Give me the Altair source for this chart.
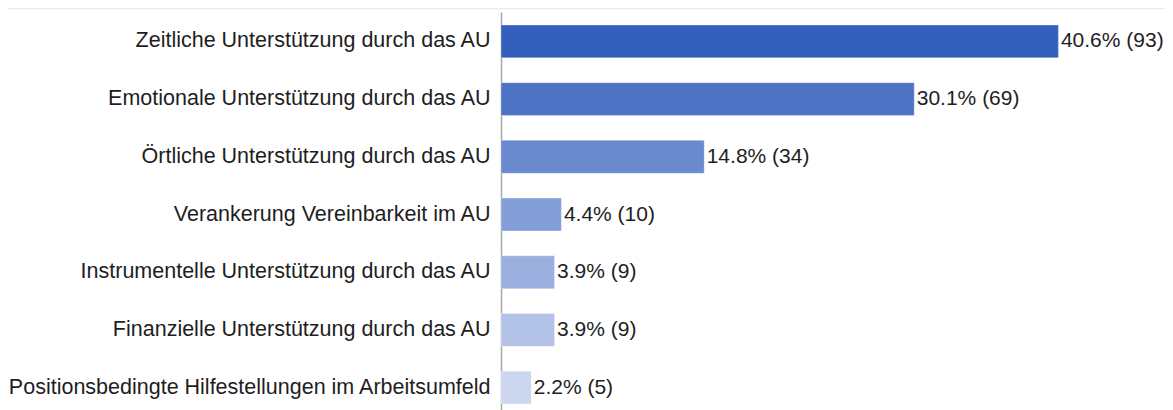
import altair as alt
import pandas as pd

categories = [
    "Zeitliche Unterstützung durch das AU",
    "Emotionale Unterstützung durch das AU",
    "Örtliche Unterstützung durch das AU",
    "Verankerung Vereinbarkeit im AU",
    "Instrumentelle Unterstützung durch das AU",
    "Finanzielle Unterstützung durch das AU",
    "Positionsbedingte Hilfestellungen im Arbeitsumfeld",
]
percents = [40.6, 30.1, 14.8, 4.4, 3.9, 3.9, 2.2]
counts = [93, 69, 34, 10, 9, 9, 5]
colors = ["#335FBD", "#4E73C5", "#6A8ACF", "#849FD8", "#9BB0DF", "#B3C3E7", "#CCD7EF"]

df = pd.DataFrame({
    "cat": categories,
    "pct": percents,
    "n": counts,
})
df["label"] = [f"{p:.1f}% ({c})" for p, c in zip(percents, counts)]

FONT = "Liberation Sans"
FS = 21.5

base = alt.Chart(df)

y_enc = alt.Y(
    "cat:N",
    sort=categories,
    scale=alt.Scale(paddingInner=0.43, paddingOuter=0.225),
    axis=alt.Axis(
        title=None,
        domain=True,
        domainColor="#a8a8a8",
        domainWidth=1.5,
        ticks=False,
        labelFontSize=FS,
        labelFont=FONT,
        labelColor="#1e1e1e",
        labelPadding=11,
        labelLimit=0,
        grid=False,
    ),
)
x_enc = alt.X("pct:Q", scale=alt.Scale(domain=[0, 48], nice=False), axis=None)

bars = base.mark_bar(stroke="white", strokeWidth=0.6, strokeOpacity=0.5).encode(
    y=y_enc,
    x=x_enc,
    color=alt.Color("cat:N", scale=alt.Scale(domain=categories, range=colors), legend=None),
)

labels = base.mark_text(
    align="left", baseline="middle", dx=2.5, fontSize=21, font=FONT, color="#1e1e1e"
).encode(
    y=alt.Y("cat:N", sort=categories),
    x=alt.X("pct:Q"),
    text="label:N",
)

topline = alt.Chart(pd.DataFrame({"a": [0]})).mark_rule(color="#ebebeb", strokeWidth=1.5).encode(
    x=alt.value(-493),
    x2=alt.value(664),
    y=alt.value(-3.5),
)

chart = (
    alt.layer(topline, bars, labels)
    .properties(
        width=659,
        height=405,
        autosize=alt.AutoSizeParams(type="none"),
        padding={"left": 493, "top": 4, "right": 5, "bottom": 0},
    )
    .configure_view(stroke=None)
)

chart.save("out.html", embed_options={"renderer": "svg", "actions": False})
